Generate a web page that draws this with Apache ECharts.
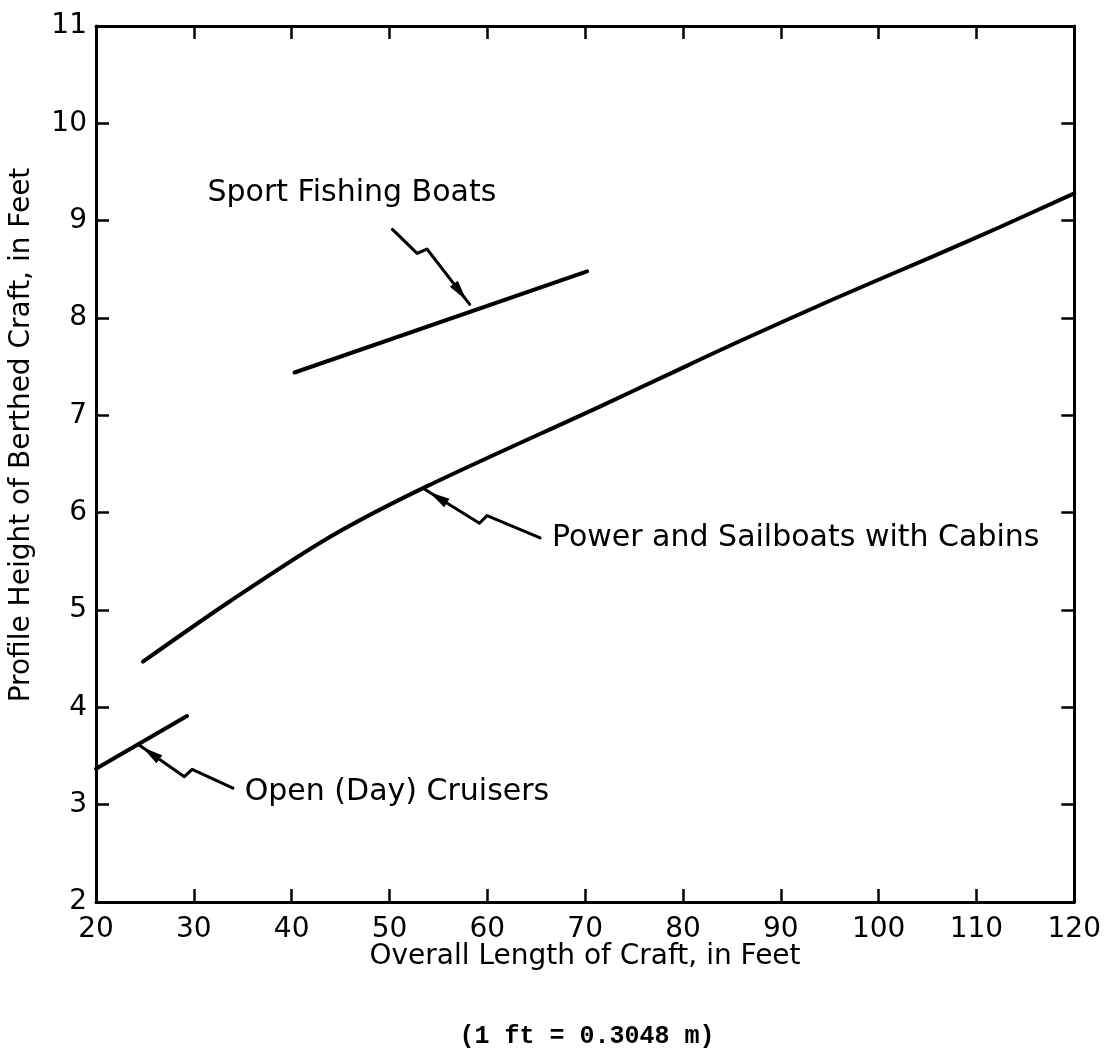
<!DOCTYPE html>
<html>
<head>
<meta charset="utf-8">
<title>Profile Height of Berthed Craft</title>
<script src="https://cdn.jsdelivr.net/npm/echarts@6/dist/echarts.min.js"></script>
<style>
  html, body { margin: 0; padding: 0; background: #fff; }
  #chart { width: 1104px; height: 1061px; }
</style>
</head>
<body>
<div id="chart"></div>
<script>
// Power and sailboats with cabins
const powerX = [24.8, 33.7, 43.9, 53.8, 71.5, 78.3, 85.1, 95.3, 105.5, 112.3, 120]
const powerY = [4.47, 5.09, 5.75, 6.27, 7.09, 7.41, 7.73, 8.19, 8.63, 8.93, 9.28]

// Sport fishing boats
const sportX = [40.3, 70.2]
const sportY = [7.44, 8.48]

// Open (day) cruisers
const openX = [20, 29.3]
const openY = [3.37, 3.91]

// annotation leaders: label text, label anchor, tail of the squiggle, arrow tip on the curve
const labelNames = ['Sport Fishing Boats', 'Power and Sailboats with Cabins', 'Open (Day) Cruisers']
const labelX = [31.4, 66.6, 35.2]
const labelY = [9.28, 5.74, 3.13]
const tailX = [50.3, 65.4, 34.0]
const tailY = [8.91, 5.74, 3.17]
const tipX = [58.2, 53.6, 24.3]
const tipY = [8.14, 6.24, 3.62]
const jogAt = [0.32, 0.46, 0.43] // where the little zig sits, as a share of tail->tip

const pairs = (xs, ys) => xs.map((x, i) => [x, ys[i]])

const leaderData = labelNames.map((n, i) => [tailX[i], tailY[i], tipX[i], tipY[i], jogAt[i], labelX[i], labelY[i]])

const ink = '#000'
const fontSans = 'DejaVu Sans'

const renderLeader = (params, api) => {
  const tail = api.coord([api.value(0), api.value(1)])
  const tip = api.coord([api.value(2), api.value(3)])
  const dx = tip[0] - tail[0]
  const dy = tip[1] - tail[1]
  const len = Math.hypot(dx, dy)
  const ux = dx / len, uy = dy / len
  const px = uy, py = -ux // perpendicular for the jog
  const t = api.value(4)
  const p1 = [tail[0] + ux * len * t, tail[1] + uy * len * t]
  const p2 = [p1[0] + px * 10 + ux * 4, p1[1] + py * 10 + uy * 4]
  // arrow head along last segment
  const hx = tip[0] - p2[0], hy = tip[1] - p2[1]
  const hl = Math.hypot(hx, hy)
  const vx = hx / hl, vy = hy / hl
  const apex = [tip[0] - vx * 5, tip[1] - vy * 5]
  const base = [tip[0] - vx * 26, tip[1] - vy * 26]
  const lab = api.coord([api.value(5), api.value(6)])
  return {
    type: 'group',
    children: [
      {
        type: 'polyline',
        shape: { points: [tail, p1, p2, tip] },
        style: { stroke: ink, lineWidth: 3, fill: null, lineJoin: 'round', lineCap: 'round' }
      },
      {
        type: 'polygon',
        shape: { points: [apex, [base[0] + vy * 5, base[1] - vx * 5], [base[0] - vy * 5, base[1] + vx * 5]] },
        style: { fill: ink }
      },
      {
        type: 'text',
        x: lab[0],
        y: lab[1],
        style: {
          text: labelNames[params.dataIndex],
          font: '30px "' + fontSans + '"',
          fill: ink,
          textAlign: 'left',
          textVerticalAlign: 'middle'
        }
      }
    ]
  }
}

const axisLine = { onZero: false, lineStyle: { color: ink, width: 3 } }
const axisTick = { inside: true, length: 13, lineStyle: { color: ink, width: 2.5 } }
const tickLabel = { color: ink, fontSize: 28, fontFamily: fontSans }

const chart = echarts.init(document.getElementById('chart'))
chart.setOption({
  backgroundColor: '#fff',
  animation: false,
  grid: { left: 96, right: 29, top: 26, bottom: 159 },
  xAxis: [
    {
      type: 'value', position: 'bottom', min: 20, max: 120, interval: 10,
      axisLine: axisLine, axisTick: axisTick,
      axisLabel: Object.assign({ margin: 14 }, tickLabel),
      splitLine: { show: false }
    },
    {
      type: 'value', position: 'top', min: 20, max: 120, interval: 10,
      axisLine: axisLine, axisTick: axisTick,
      axisLabel: { show: false }, splitLine: { show: false }
    }
  ],
  yAxis: [
    {
      type: 'value', position: 'left', min: 2, max: 11, interval: 1,
      axisLine: axisLine, axisTick: axisTick,
      axisLabel: Object.assign({ margin: 9 }, tickLabel),
      splitLine: { show: false }
    },
    {
      type: 'value', position: 'right', min: 2, max: 11, interval: 1,
      axisLine: axisLine, axisTick: axisTick,
      axisLabel: { show: false }, splitLine: { show: false }
    }
  ],
  graphic: [
    {
      type: 'text', x: 22, y: 435, rotation: Math.PI / 2,
      style: {
        text: 'Profile Height of Berthed Craft, in Feet',
        font: '28px "' + fontSans + '"', fill: ink,
        textAlign: 'center', textVerticalAlign: 'middle'
      }
    },
    {
      type: 'text', x: 585, y: 957,
      style: {
        text: 'Overall Length of Craft, in Feet',
        font: '28px "' + fontSans + '"', fill: ink,
        textAlign: 'center', textVerticalAlign: 'middle'
      }
    },
    {
      type: 'text', x: 587, y: 1037,
      style: {
        text: '(1 ft = 0.3048 m)',
        font: 'bold 25px "Liberation Mono"', fill: ink,
        textAlign: 'center', textVerticalAlign: 'middle'
      }
    }
  ],
  series: [
    {
      name: 'Power and Sailboats with Cabins', type: 'line',
      data: pairs(powerX, powerY), smooth: 0.3, showSymbol: false,
      lineStyle: { color: ink, width: 4, cap: 'round' }
    },
    {
      name: 'Sport Fishing Boats', type: 'line',
      data: pairs(sportX, sportY), showSymbol: false,
      lineStyle: { color: ink, width: 4, cap: 'round' }
    },
    {
      name: 'Open (Day) Cruisers', type: 'line',
      data: pairs(openX, openY), showSymbol: false,
      lineStyle: { color: ink, width: 4, cap: 'round' }
    },
    {
      name: 'leaders', type: 'custom', clip: false,
      renderItem: renderLeader,
      encode: { x: [0, 2, 5], y: [1, 3, 6] },
      data: leaderData,
      z: 5
    }
  ]
})
</script>
</body>
</html>
